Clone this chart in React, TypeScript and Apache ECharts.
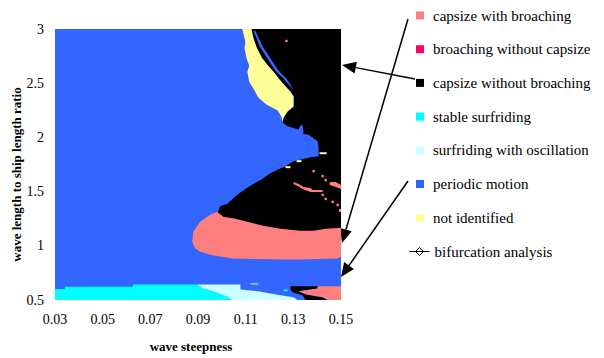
import React, { useEffect, useRef } from "react";
import * as echarts from "echarts";

// axis ticks
const xTicks = [0.03, 0.05, 0.07, 0.09, 0.11, 0.13, 0.15];
const yTicks = [0.5, 1, 1.5, 2, 2.5, 3];

// regions as polygons in (wave steepness, wave length / ship length) coordinates
const periodicBackground = [
  [[0.03, 0.5], [0.15, 0.5], [0.15, 3.0], [0.03, 3.0]],
];
const periodicStrip = [
  [[0.1132, 2.982], [0.1145, 2.92], [0.1158, 2.844], [0.1179, 2.77], [0.12, 2.698], [0.1225, 2.615], [0.1259, 2.541], [0.1288, 2.468], [0.1301, 2.441],
   [0.1272, 2.541], [0.1238, 2.615], [0.1213, 2.698], [0.1192, 2.77], [0.1170, 2.844], [0.1154, 2.92], [0.1141, 2.982]],
];
const capsizeNoBroachAreas = [
  [[0.1124, 3.0], [0.15, 3.0], [0.15, 1.066], [0.1078, 1.066], [0.0981, 1.295], [0.0993, 1.368], [0.1023, 1.386], [0.1044, 1.432], [0.1069, 1.478],
   [0.1099, 1.524], [0.1132, 1.57], [0.117, 1.616], [0.1196, 1.661], [0.1238, 1.707], [0.1267, 1.735], [0.1301, 1.78], [0.1372, 1.817], [0.1406, 1.826],
   [0.1406, 1.909], [0.1402, 1.964], [0.1381, 2.0], [0.136, 2.028], [0.1343, 2.028], [0.1339, 2.111], [0.133, 2.111], [0.1322, 2.074], [0.1276, 2.102],
   [0.1255, 2.138], [0.1259, 2.184], [0.1276, 2.239], [0.1301, 2.285], [0.1301, 2.377], [0.1288, 2.422], [0.1246, 2.514], [0.1212, 2.605],
   [0.1187, 2.67], [0.1166, 2.734], [0.1145, 2.826], [0.1132, 2.92]],
  [[0.1288, 0.626], [0.1402, 0.626], [0.1402, 0.607], [0.1322, 0.58], [0.1351, 0.552], [0.1423, 0.525], [0.1444, 0.5], [0.1351, 0.5], [0.1339, 0.543],
   [0.1297, 0.571], [0.1288, 0.598]],
];
const notIdentifiedAreas = [
  [[0.1086, 3.0], [0.1099, 2.881], [0.1095, 2.826], [0.1103, 2.734], [0.1115, 2.661], [0.1107, 2.605], [0.1115, 2.514], [0.1137, 2.432], [0.1153, 2.368],
   [0.1187, 2.303], [0.1234, 2.248], [0.1250, 2.193], [0.1255, 2.147], [0.1259, 2.184], [0.1276, 2.239], [0.1301, 2.285], [0.1301, 2.377], [0.1288, 2.422],
   [0.1250, 2.514], [0.1217, 2.605], [0.1191, 2.67], [0.1168, 2.734], [0.1147, 2.826], [0.1132, 2.92], [0.1124, 3.0]],
  [[0.1267, 1.716], [0.1288, 1.716], [0.1288, 1.735], [0.1267, 1.735]],
  [[0.1314, 1.771], [0.1334, 1.771], [0.1334, 1.79], [0.1314, 1.79]],
  [[0.141, 1.845], [0.144, 1.845], [0.144, 1.863], [0.141, 1.863]],
  [[0.112, 0.644], [0.1153, 0.644], [0.1153, 0.653], [0.112, 0.653]],
];
const capsizeBroachAreas = [
  [[0.0981, 1.313], [0.1006, 1.267], [0.1057, 1.249], [0.1107, 1.222], [0.1174, 1.185], [0.1246, 1.157], [0.133, 1.139], [0.1385, 1.139], [0.1436, 1.157],
   [0.15, 1.166], [0.15, 0.901], [0.1486, 0.882], [0.133, 0.873], [0.1246, 0.873], [0.1048, 0.882], [0.0964, 0.91], [0.0909, 0.946], [0.0888, 0.974],
   [0.0876, 1.038], [0.088, 1.13], [0.0909, 1.222], [0.0951, 1.286]],
  [[0.1322, 0.58], [0.1402, 0.607], [0.1402, 0.626], [0.15, 0.626], [0.15, 0.5], [0.1444, 0.5], [0.1423, 0.525], [0.1351, 0.552]],
  [[0.1301, 1.588], [0.1322, 1.57], [0.1343, 1.542], [0.1372, 1.533], [0.1381, 1.515], [0.1423, 1.515], [0.1423, 1.497], [0.1372, 1.497], [0.1339, 1.524],
   [0.1318, 1.551], [0.1301, 1.57]],
  [[0.1453, 1.588], [0.1478, 1.588], [0.15, 1.56], [0.15, 1.524], [0.1478, 1.542], [0.1453, 1.56]],
  [[0.1491, 1.313], [0.15, 1.313], [0.15, 1.34], [0.1491, 1.34]],
];
const capsizeBroachDots = [
  [0.1385, 1.689], [0.1423, 1.643], [0.1436, 1.606], [0.1423, 1.469], [0.1436, 1.432], [0.1465, 1.405], [0.1486, 1.377], [0.1271, 2.89],
];
const stableSurfAreas = [
  [[0.03, 0.5], [0.03, 0.601], [0.0341, 0.601], [0.0341, 0.623], [0.0627, 0.623], [0.0627, 0.644], [0.0897, 0.644], [0.0922, 0.607], [0.0964, 0.58],
   [0.1006, 0.543], [0.1027, 0.525], [0.1044, 0.5]],
  [[0.1069, 0.5], [0.1103, 0.5], [0.1103, 0.525], [0.1069, 0.525]],
  [[0.1259, 0.58], [0.1276, 0.58], [0.1276, 0.598], [0.1259, 0.598]],
];
const oscSurfAreas = [
  [[0.0897, 0.644], [0.1078, 0.644], [0.1078, 0.598], [0.1107, 0.589], [0.1153, 0.58], [0.1204, 0.561], [0.1246, 0.543], [0.1301, 0.525], [0.1318, 0.5],
   [0.1044, 0.5], [0.1027, 0.525], [0.1006, 0.543], [0.0964, 0.58], [0.0922, 0.607]],
];

const legendNames = [
  "capsize with broaching",
  "broaching without capsize",
  "capsize without broaching",
  "stable surfriding",
  "surfriding with oscillation",
  "periodic motion",
  "not identified",
];

const FONT = "Liberation Serif";

function polySeries(name: string, color: string, polys: number[][][], z: number) {
  return {
    type: "custom",
    name,
    coordinateSystem: "cartesian2d",
    silent: true,
    z,
    clip: true,
    itemStyle: { color },
    data: polys.map((p) => p[0]),
    renderItem: (params: any, api: any) => {
      const pts = polys[params.dataIndex].map((pt) => api.coord(pt));
      return { type: "polygon", shape: { points: pts }, style: { fill: color } };
    },
  };
}

function arrow(from: number[], to: number[]) {
  const dx = to[0] - from[0];
  const dy = to[1] - from[1];
  const len = Math.sqrt(dx * dx + dy * dy);
  const ux = dx / len, uy = dy / len;
  const L = 14, W = 6;
  const bx = to[0] - ux * L, by = to[1] - uy * L;
  return [
    { type: "line", shape: { x1: from[0], y1: from[1], x2: bx, y2: by }, style: { stroke: "#000", lineWidth: 1.5 }, silent: true },
    { type: "polygon", shape: { points: [to, [bx - uy * W, by + ux * W], [bx + uy * W, by - ux * W]] }, style: { fill: "#000" }, silent: true },
  ];
}

const legendText = {
  fontFamily: FONT,
  fontSize: 15,
  color: "#000",
  rich: { t: { fontFamily: FONT, fontSize: 15, color: "#000" } },
};

export default function App() {
  const ref = useRef<HTMLDivElement>(null);
  useEffect(() => {
    if (!ref.current) return;
    const chart = echarts.init(ref.current, null, { renderer: "svg" });
    chart.setOption({
      animation: false,
      backgroundColor: "#fff",
      textStyle: { fontFamily: FONT, color: "#000" },
      grid: { left: 55, right: 263, top: 29, bottom: 56 },
      xAxis: {
        type: "value",
        min: 0.03,
        max: 0.15,
        name: "wave steepness",
        nameLocation: "middle",
        nameGap: 40,
        nameTextStyle: { fontFamily: FONT, fontWeight: "bold", fontSize: 13, color: "#000", padding: [0, 14, 0, 0] },
        axisLine: { show: false },
        axisTick: { show: false },
        splitLine: { show: false },
        axisLabel: {
          customValues: xTicks,
          formatter: (v: number) => v.toFixed(2),
          fontFamily: FONT,
          fontSize: 14,
          color: "#000",
          margin: 12,
        },
      },
      yAxis: {
        type: "value",
        min: 0.5,
        max: 3,
        name: "wave length to ship length ratio",
        nameLocation: "middle",
        nameGap: 28,
        nameTextStyle: { fontFamily: FONT, fontWeight: "bold", fontSize: 13, color: "#000", padding: [0, 20, 0, 0] },
        axisLine: { show: false },
        axisTick: { show: false },
        splitLine: { show: false },
        axisLabel: {
          customValues: yTicks,
          formatter: (v: number) => String(v),
          fontFamily: FONT,
          fontSize: 14,
          color: "#000",
          margin: 11,
        },
      },
      legend: [
        {
          data: legendNames,
          orient: "vertical",
          left: 416,
          top: 8,
          padding: 0,
          itemGap: 18.7,
          itemWidth: 8,
          itemHeight: 8,
          icon: "rect",
          selectedMode: false,
          formatter: (name: string) => "{t|" + name + "}",
          textStyle: { ...legendText, padding: [0, 0, 0, 4] },
        },
        {
          data: ["bifurcation analysis"],
          orient: "vertical",
          left: 409,
          top: 244,
          padding: 0,
          itemWidth: 20,
          itemHeight: 8,
          icon: "path://M0,4 H20 M10,0 L14,4 L10,8 L6,4 Z",
          itemStyle: { color: "#fff", borderColor: "#000", borderWidth: 1 },
          selectedMode: false,
          formatter: (name: string) => "{t|" + name + "}",
          textStyle: legendText,
        },
      ],
      graphic: [
        ...arrow([415, 79], [342, 65]),
        ...arrow([408, 19], [342, 243]),
        ...arrow([408, 181], [341, 277]),
      ],
      series: [
        polySeries("periodic motion", "#3366FF", periodicBackground, 1),
        polySeries("capsize without broaching", "#000000", capsizeNoBroachAreas, 2),
        polySeries("not identified", "#FFFF99", notIdentifiedAreas, 3),
        polySeries("periodic motion", "#3366FF", periodicStrip, 3),
        polySeries("capsize with broaching", "#FF7F7F", capsizeBroachAreas, 4),
        {
          type: "custom",
          name: "capsize with broaching",
          coordinateSystem: "cartesian2d",
          silent: true,
          z: 4,
          itemStyle: { color: "#FF7F7F" },
          data: capsizeBroachDots,
          renderItem: (params: any, api: any) => {
            const p = api.coord([api.value(0), api.value(1)]);
            return { type: "rect", shape: { x: p[0] - 1.2, y: p[1] - 1.2, width: 2.4, height: 2.4 }, style: { fill: "#FF7F7F" } };
          },
        },
        polySeries("stable surfriding", "#00FFFF", stableSurfAreas, 4),
        polySeries("surfriding with oscillation", "#CCFFFF", oscSurfAreas, 4),
        polySeries("broaching without capsize", "#FF0066", [], 4),
        {
          type: "line",
          name: "bifurcation analysis",
          data: [],
          symbol: "emptyDiamond",
          symbolSize: 8,
          lineStyle: { color: "#000", width: 1 },
          itemStyle: { color: "#fff", borderColor: "#000", borderWidth: 1 },
        },
      ],
    });
    return () => chart.dispose();
  }, []);
  return <div ref={ref} style={{ position: "fixed", left: 0, top: 0, width: 604, height: 358 }} />;
}
